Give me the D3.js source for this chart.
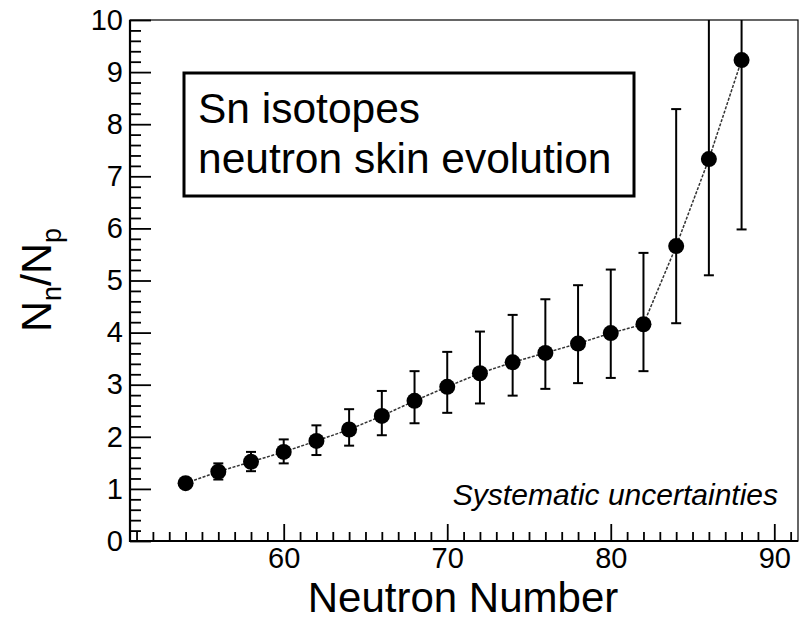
<!DOCTYPE html>
<html>
<head>
<meta charset="utf-8">
<script src="https://cdn.jsdelivr.net/npm/d3@7"></script>
<style>
  body { margin: 0; background: #fff; }
  text { font-family: "Liberation Sans", Arial, sans-serif; fill: #000; }
</style>
</head>
<body>
<div id="chart"></div>
<script>
// neutron number of each Sn isotope
const neutrons = [54, 56, 58, 60, 62, 64, 66, 68, 70, 72, 74, 76, 78, 80, 82, 84, 86, 88];
// Nn/Np ratio
const ratio = [1.11, 1.33, 1.52, 1.71, 1.92, 2.14, 2.40, 2.69, 2.96, 3.22, 3.43, 3.61, 3.79, 3.99, 4.16, 5.66, 7.33, 9.23];
// systematic uncertainty band, upper and lower ends
const errHigh = [1.18, 1.49, 1.71, 1.95, 2.22, 2.53, 2.88, 3.26, 3.63, 4.02, 4.34, 4.64, 4.91, 5.21, 5.53, 8.29, 10.6, 12.5];
const errLow = [1.04, 1.18, 1.34, 1.49, 1.65, 1.83, 2.03, 2.26, 2.46, 2.64, 2.79, 2.92, 3.03, 3.13, 3.26, 4.18, 5.10, 5.98];

const xTicksMajor = [60, 70, 80, 90];
const yTicksMajor = [0, 1, 2, 3, 4, 5, 6, 7, 8, 9, 10];
const legendLines = ["Sn isotopes", "neutron skin evolution"];

function ErrorPlot({
    target,
    width = 803,
    height = 623,
    left = 130, // frame edges, in pixels
    right = 798,
    top = 20,
    bottom = 541,
} = {}) {
    const svg = d3.select(target)
        .append("svg")
        .attr("width", width)
        .attr("height", height);

    const x = d3.scaleLinear().domain([50.6, 91.45]).range([left, right]);
    const y = d3.scaleLinear().domain([0, 10]).range([bottom, top]);

    const xMinor = d3.range(51, 92).filter(v => !xTicksMajor.includes(v));
    const yMinor = d3.range(0, 50).map(i => i / 5).filter(v => v % 1 !== 0);

    // minor ticks first, then the labelled ones
    svg.append("g")
        .attr("transform", `translate(0,${bottom})`)
        .call(d3.axisBottom(x).tickValues(xMinor).tickSize(-9).tickFormat(""));
    svg.append("g")
        .attr("class", "xaxis")
        .attr("transform", `translate(0,${bottom})`)
        .call(d3.axisBottom(x).tickValues(xTicksMajor).tickSize(-17).tickPadding(6).tickFormat(d3.format("d")));
    svg.append("g")
        .attr("transform", `translate(${left},0)`)
        .call(d3.axisLeft(y).tickValues(yMinor).tickSize(-11).tickFormat(""));
    svg.append("g")
        .attr("class", "yaxis")
        .attr("transform", `translate(${left},0)`)
        .call(d3.axisLeft(y).tickValues(yTicksMajor).tickSize(-21).tickPadding(7).tickFormat(d3.format("d")));

    svg.selectAll(".domain").remove();
    svg.selectAll(".tick line").attr("stroke", "#000").attr("stroke-width", 1.8);
    svg.selectAll(".tick text").style("font-size", "29px").attr("fill", "#000");

    // frame
    svg.append("rect")
        .attr("x", left).attr("y", top)
        .attr("width", right - left).attr("height", bottom - top)
        .attr("fill", "none").attr("stroke", "#000").attr("stroke-width", 1.2);
    svg.append("path")
        .attr("d", `M${left},${top}V${bottom}H${right}`)
        .attr("fill", "none").attr("stroke", "#000").attr("stroke-width", 2.2);

    svg.append("clipPath").attr("id", "plotArea")
        .append("rect")
        .attr("x", left).attr("y", top)
        .attr("width", right - left).attr("height", bottom - top);

    const data = neutrons.map((n, i) => ({ n, v: ratio[i], hi: errHigh[i], lo: errLow[i] }));
    const plot = svg.append("g").attr("clip-path", "url(#plotArea)");

    // connecting line
    plot.append("path")
        .datum(data)
        .attr("d", d3.line().x(d => x(d.n)).y(d => y(d.v)))
        .attr("fill", "none")
        .attr("stroke", "#333")
        .attr("stroke-width", 1.5)
        .attr("stroke-dasharray", "3,1.5");

    // error bars with caps
    const bars = plot.selectAll(".err").data(data).enter().append("g").attr("class", "err");
    bars.append("line")
        .attr("x1", d => x(d.n)).attr("x2", d => x(d.n))
        .attr("y1", d => y(d.hi)).attr("y2", d => y(d.lo))
        .attr("stroke", "#000").attr("stroke-width", 2);
    bars.selectAll(".cap")
        .data(d => [d.hi, d.lo].map(e => ({ n: d.n, e })))
        .enter().append("line")
        .attr("x1", d => x(d.n) - 5).attr("x2", d => x(d.n) + 5)
        .attr("y1", d => y(d.e)).attr("y2", d => y(d.e))
        .attr("stroke", "#000").attr("stroke-width", 2);

    plot.selectAll(".dot")
        .data(data).enter().append("circle")
        .attr("cx", d => x(d.n)).attr("cy", d => y(d.v)).attr("r", 8)
        .attr("fill", "#000");

    // legend box
    svg.append("rect")
        .attr("x", 184).attr("y", 73).attr("width", 450).attr("height", 123)
        .attr("fill", "#fff").attr("stroke", "#000").attr("stroke-width", 3);
    svg.selectAll(".legend")
        .data(legendLines).enter().append("text")
        .attr("x", 198).attr("y", (d, i) => 123 + i * 49.5)
        .style("font-size", "42.5px")
        .text(d => d);

    svg.append("text")
        .attr("x", 778).attr("y", 505)
        .attr("text-anchor", "end")
        .style("font-size", "30px").style("font-style", "italic")
        .text("Systematic uncertainties");

    // axis titles
    svg.append("text")
        .attr("x", 463).attr("y", 612)
        .attr("text-anchor", "middle")
        .style("font-size", "42px")
        .text("Neutron Number");

    const yTitle = svg.append("text")
        .attr("transform", "translate(51,280) rotate(-90)")
        .attr("text-anchor", "middle")
        .style("font-size", "43px");
    yTitle.append("tspan").text("N");
    yTitle.append("tspan").attr("dy", 10).style("font-size", "27px").text("n");
    yTitle.append("tspan").attr("dy", -10).text("/N");
    yTitle.append("tspan").attr("dy", 10).style("font-size", "27px").text("p");
}

ErrorPlot({
    target: "#chart",
})
</script>
</body>
</html>
